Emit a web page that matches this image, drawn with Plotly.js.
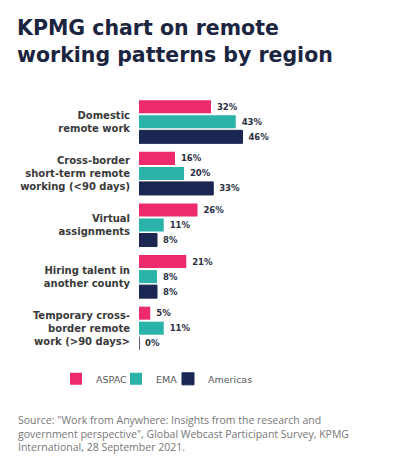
<!DOCTYPE html>
<html>
<head>
<meta charset="utf-8">
<script src="https://cdn.plot.ly/plotly-3.0.1.min.js"></script>
<style>html,body{margin:0;padding:0;background:#fff;}#chart{width:398px;height:466px;}</style>
</head>
<body>
<div id="chart"></div>
<script>
const categories = [
  "Domestic<br>remote work",
  "Cross-border<br>short-term remote<br>working (<90 days)",
  "Virtual<br>assignments",
  "Hiring talent in<br>another county",
  "Temporary cross-<br>border remote<br>work (>90 days>"
];
const seriesNames = ["ASPAC", "EMA", "Americas"];
const aspac = [32, 16, 26, 21, 5];
const ema = [43, 20, 11, 8, 11];
const americas = [46, 33, 8, 8, 0];
const colors = ["#ec2a6c", "#2bb3aa", "#1b2652"];

const seriesValues = [aspac, ema, americas];
const legendIds = ["legend", "legend2", "legend3"];
const traces = seriesValues.map((vals, i) => ({
  type: "bar",
  orientation: "h",
  name: seriesNames[i],
  legend: legendIds[i],
  y: categories,
  x: vals,
  marker: {color: colors[i], line: {width: i === 2 ? 1 : 0, color: colors[i]}},
  text: vals.map(v => " " + v + "%"),
  textposition: "outside",
  textfont: {family: "DejaVu Sans", size: 8.5, color: "#2b2f45", weight: 700},
  cliponaxis: false,
  hoverinfo: "none"
}));

const plotLeft = 139, plotW = 135;
const px2paper = p => (p - plotLeft) / plotW;
const legendStyle = (xpx) => ({
  orientation: "h",
  x: px2paper(xpx), xanchor: "left",
  y: -0.04, yanchor: "top",
  font: {family: "DejaVu Sans", size: 9.5, color: "#5a5a5a"},
  itemwidth: 30,
  bgcolor: "rgba(0,0,0,0)"
});

const layout = {
  width: 398,
  height: 466,
  paper_bgcolor: "#ffffff",
  plot_bgcolor: "#ffffff",
  margin: {l: plotLeft, r: 398 - plotLeft - plotW, t: 96, b: 112},
  barmode: "group",
  bargap: 0.126,
  bargroupgap: 0.133,
  showlegend: true,
  title: {
    text: "KPMG chart on remote<br>working patterns by region",
    font: {family: "DejaVu Sans", size: 20.5, color: "#1c2540", weight: 700},
    xref: "container", yref: "container",
    x: 17 / 398, xanchor: "left",
    y: 1 - 35 / 466, yanchor: "top"
  },
  xaxis: {
    range: [0, 60],
    visible: false,
    fixedrange: true
  },
  yaxis: {
    autorange: "reversed",
    showline: false,
    showgrid: false,
    zeroline: false,
    ticks: "",
    ticklabelstandoff: 8,
    tickfont: {family: "DejaVu Sans", size: 10, color: "#3a3a3a", weight: 700},
    fixedrange: true
  },
  legend: legendStyle(56),
  legend2: legendStyle(116),
  legend3: legendStyle(168),
  annotations: [{
    xref: "paper", yref: "paper",
    x: px2paper(16), xanchor: "left",
    y: -0.22, yanchor: "top",
    align: "left",
    showarrow: false,
    text: "Source: \"Work from Anywhere: Insights from the research and<br>government perspective\", Global Webcast Participant Survey, KPMG<br>International, 28 September 2021.",
    font: {family: "Open Sans", size: 10.5, color: "#777777"}
  }]
};

Plotly.newPlot("chart", traces, layout, {displayModeBar: false, staticPlot: true});
</script>
</body>
</html>
